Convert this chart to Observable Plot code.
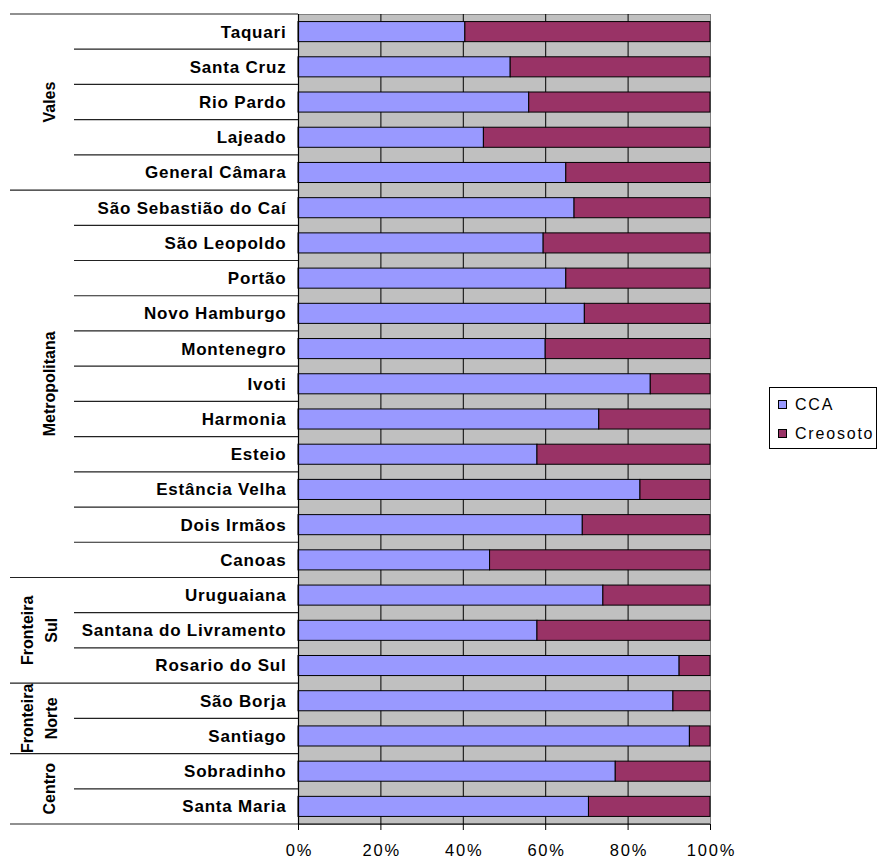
<!DOCTYPE html>
<html><head><meta charset="utf-8">
<script src="https://cdn.jsdelivr.net/npm/d3@7"></script>
<script src="https://cdn.jsdelivr.net/npm/@observablehq/plot@0.6"></script>
<style>body{margin:0;background:#fff}#chart{width:885px;height:861px}</style>
</head><body><div id="chart"></div>
<script>
const cities = ["Taquari","Santa Cruz","Rio Pardo","Lajeado","General Câmara",
  "São Sebastião do Caí","São Leopoldo","Portão","Novo Hamburgo","Montenegro","Ivoti","Harmonia","Esteio","Estância Velha","Dois Irmãos","Canoas",
  "Uruguaiana","Santana do Livramento","Rosario do Sul",
  "São Borja","Santiago",
  "Sobradinho","Santa Maria"];
const cca      = [40.5,51.5,56,45,65, 67,59.5,65,69.5,60,85.5,73,58,83,69,46.5, 74,58,92.5, 91,95, 77,70.5];
const creosoto = [59.5,48.5,44,55,35, 33,40.5,35,30.5,40,14.5,27,42,17,31,53.5, 26,42,7.5, 9,5, 23,29.5];
const groupNames = [["Vales"],["Metropolitana"],["Fronteira","Sul"],["Fronteira","Norte"],["Centro"]];
const groupSizes = [5,11,3,2,2];
const seriesNames = ["CCA","Creosoto"];
const seriesColors = ["#9999FF","#993366"];
const xTicks = [0,20,40,60,80,100];
const gridTicks = [20,40,60,80];

const data = cities.flatMap((c,i)=>[
  {city:c, type:seriesNames[0], value:cca[i]},
  {city:c, type:seriesNames[1], value:creosoto[i]}
]);

const chart = Plot.plot({
  width:885, height:861,
  marginLeft:298, marginRight:175, marginTop:14, marginBottom:37,
  style:{fontFamily:"'Liberation Sans', Arial, sans-serif", background:"white", color:"#000"},
  x:{domain:[0,100], label:null},
  y:{domain:cities, paddingInner:0.43, paddingOuter:0.215, round:false, label:null},
  color:{domain:seriesNames, range:seriesColors},
  marks:[
    Plot.frame({fill:"#C0C0C0", stroke:"#808080"}),
    Plot.ruleX(gridTicks, {stroke:"#000", strokeWidth:1}),
    Plot.barX(data, {x:"value", y:"city", fill:"type", stroke:"#000", strokeWidth:1}),
    Plot.ruleX([0], {stroke:"#000", strokeWidth:1.2}),
    Plot.axisX({ticks:xTicks, tickFormat:d=>d+"%", tickSize:6, tickPadding:14, stroke:"#000"}),
    Plot.axisY({tickSize:0, tickPadding:12})
  ]
});
document.getElementById("chart").appendChild(chart);

const svg = d3.select(chart);
svg.selectAll('g[aria-label="y-axis tick label"] text')
  .attr("font-size",17).attr("font-weight","bold").style("letter-spacing","0.8px").attr("fill","#000");
svg.selectAll('g[aria-label="x-axis tick label"] text')
  .attr("font-size",16.5).style("letter-spacing","1.8px").attr("dx",0.9).attr("fill","#000").attr("fill-opacity",1);

const ys = chart.scale("y"), xs = chart.scale("x");
const step = (ys.range[1]-ys.range[0])/cities.length;
const bw = ys.bandwidth;
const boundary = i => i < cities.length ? ys.apply(cities[i]) - (step-bw)/2 : ys.apply(cities[cities.length-1]) + bw + (step-bw)/2;
const x0 = xs.apply(0), x1 = xs.apply(100);
const g = svg.append("g");
g.append("line").attr("x1",x0).attr("x2",x1).attr("y1",boundary(cities.length)).attr("y2",boundary(cities.length)).attr("stroke","#000").attr("stroke-width",1.2);
const groupStarts = [0];
groupSizes.forEach((s,k)=>groupStarts.push(groupStarts[k]+s));
for (let i=0;i<=cities.length;i++){
  const isGroup = groupStarts.includes(i);
  const y = boundary(i);
  g.append("line").attr("x1",isGroup?10:74).attr("x2",x0).attr("y1",y).attr("y2",y)
    .attr("stroke","#222").attr("stroke-width",1.2);
}
groupNames.forEach((lines,k)=>{
  const yc = (boundary(groupStarts[k]) + boundary(groupStarts[k+1]))/2;
  const xs2 = lines.length===1 ? [49] : [27,51];
  lines.forEach((t,j)=>{
    g.append("text").attr("transform",`translate(${xs2[j]},${yc}) rotate(-90)`)
      .attr("text-anchor","middle").attr("dy","0.36em")
      .attr("font-size",16).attr("font-weight","bold").attr("fill","#000").text(t);
  });
});
const lg = svg.append("g").attr("text-anchor","start");
lg.append("rect").attr("x",769.5).attr("y",387.5).attr("width",107).attr("height",61).attr("fill","#fff").attr("stroke","#000");
seriesNames.forEach((n,i)=>{
  const yy = 400 + i*29;
  lg.append("rect").attr("x",778.5).attr("y",yy+0.5).attr("width",8).attr("height",8).attr("fill",seriesColors[i]).attr("stroke","#000");
  lg.append("text").attr("x",795).attr("y",yy+9.5).attr("text-anchor","start").attr("font-size",16).style("letter-spacing","1.8px").attr("fill","#000").text(n);
});
</script>
</body></html>
